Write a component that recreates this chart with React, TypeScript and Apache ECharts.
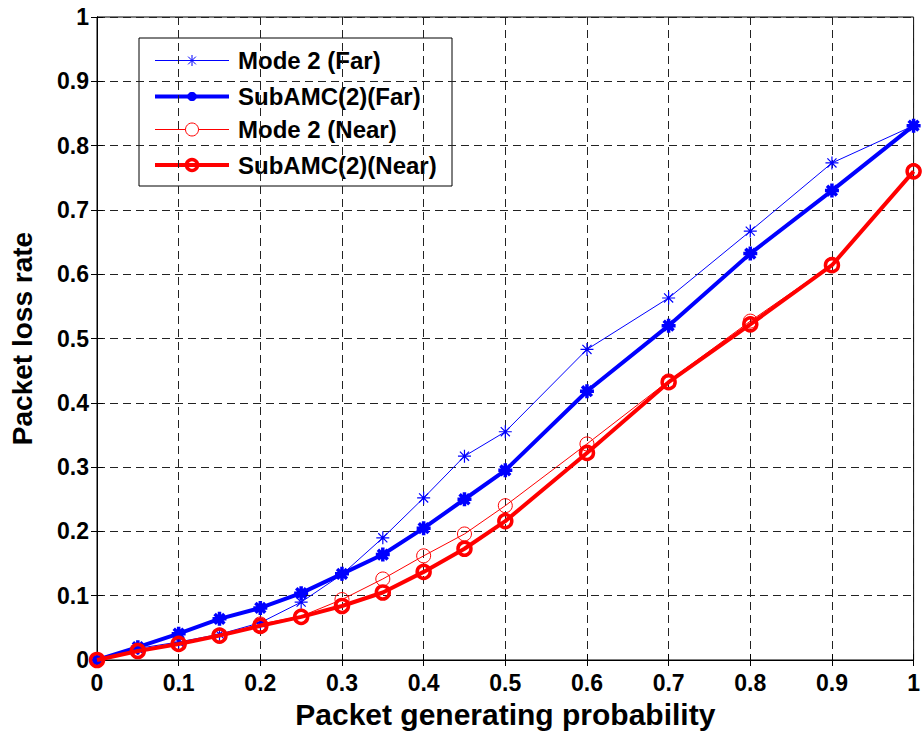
import React, { useEffect, useRef } from "react";
import * as echarts from "echarts";

// Packet generating probability (x) and packet loss rate for each scheme
const probability = [0, 0.05, 0.1, 0.15, 0.2, 0.25, 0.3, 0.35, 0.4, 0.45, 0.5, 0.6, 0.7, 0.8, 0.9, 1.0];
const mode2Far = [0, 0.018, 0.028, 0.04, 0.058, 0.09, 0.133, 0.19, 0.252, 0.317, 0.355, 0.483, 0.563, 0.667, 0.773, 0.831];
const subAmcFar = [0, 0.02, 0.041, 0.064, 0.081, 0.104, 0.134, 0.164, 0.205, 0.25, 0.295, 0.418, 0.52, 0.632, 0.73, 0.831];
const mode2Near = [0, 0.015, 0.025, 0.038, 0.056, 0.068, 0.094, 0.126, 0.162, 0.196, 0.24, 0.336, 0.434, 0.527, 0.615, 0.761];
const subAmcNear = [0, 0.014, 0.025, 0.038, 0.053, 0.067, 0.084, 0.105, 0.137, 0.173, 0.216, 0.322, 0.432, 0.522, 0.614, 0.76];

const seriesNames = ["Mode 2 (Far)", "SubAMC(2)(Far)", "Mode 2 (Near)", "SubAMC(2)(Near)"];

const FONT = "'Liberation Sans', Arial, Helvetica, sans-serif";
const ASTERISK = "path://M0,-10L0,10M-10,0L10,0M-7,-7L7,7M-7,7L7,-7";
const BLUE = "#0000ff";
const RED = "#ff0000";

const pairs = (ys: number[]) => probability.map((x, i) => [x, ys[i]]);

// Eight-armed asterisk built from line segments, centred at (cx, cy)
function asteriskLines(cx: number, cy: number, r: number, color: string, width: number) {
  const d = r * 0.7071;
  const segs = [
    [0, -r, 0, r],
    [-r, 0, r, 0],
    [-d, -d, d, d],
    [-d, d, d, -d],
  ];
  return segs.map(([x1, y1, x2, y2]) => ({
    type: "line",
    shape: { x1: cx + x1, y1: cy + y1, x2: cx + x2, y2: cy + y2 },
    style: { stroke: color, lineWidth: width },
  }));
}

function buildLegend() {
  const boxLeft = 139;
  const boxTop = 38;
  const boxRight = 452;
  const boxBottom = 186;
  const lineX1 = 155;
  const lineX2 = 229;
  const mid = (lineX1 + lineX2) / 2;
  const rows = [60.5, 96.5, 129.5, 165];
  const children: any[] = [
    {
      type: "rect",
      shape: { x: boxLeft, y: boxTop, width: boxRight - boxLeft, height: boxBottom - boxTop },
      style: { fill: "#fff", stroke: "#000", lineWidth: 1 },
    },
  ];
  const specs = [
    { color: BLUE, width: 1 },
    { color: BLUE, width: 4 },
    { color: RED, width: 1 },
    { color: RED, width: 4 },
  ];
  rows.forEach((y, i) => {
    const s = specs[i];
    children.push({
      type: "line",
      shape: { x1: lineX1, y1: y, x2: lineX2, y2: y },
      style: { stroke: s.color, lineWidth: s.width },
    });
    if (i === 0) children.push(...asteriskLines(mid, y, 5.5, BLUE, 1));
    if (i === 1) {
      children.push(...asteriskLines(mid, y, 4.5, BLUE, 3.5));
      children.push({ type: "circle", shape: { cx: mid, cy: y, r: 4 }, style: { fill: BLUE } });
    }
    if (i === 2) children.push({ type: "circle", shape: { cx: mid, cy: y, r: 6.5 }, style: { fill: "#fff", stroke: RED, lineWidth: 1 } });
    if (i === 3) children.push({ type: "circle", shape: { cx: mid, cy: y, r: 5.5 }, style: { fill: "none", stroke: RED, lineWidth: 3.5 } });
    children.push({
      type: "text",
      x: 238,
      y,
      style: {
        text: seriesNames[i],
        fontFamily: FONT,
        fontWeight: "bold",
        fontSize: 24,
        fill: "#000",
        verticalAlign: "middle",
        align: "left",
      },
    });
  });
  return { type: "group", z: 100, children };
}

export default function App() {
  const ref = useRef<HTMLDivElement>(null);

  useEffect(() => {
    if (!ref.current) return;
    const chart = echarts.init(ref.current, null, { renderer: "svg" });

    const gridDash = { type: [8, 5] as number[], color: "#222", width: 1 };
    const labelStyle = { fontFamily: FONT, fontWeight: "bold" as const, fontSize: 23, color: "#000" };
    const axisLine = { show: true, lineStyle: { color: "#000", width: 1 } };
    const innerTick = { show: true, inside: true, length: 6, lineStyle: { color: "#000" } };

    chart.setOption({
      animation: false,
      backgroundColor: "#fff",
      grid: {
        left: 96,
        right: 7,
        top: 17,
        bottom: 73,
        show: true,
        borderColor: "#000",
        borderWidth: 1,
        backgroundColor: "transparent",
      },
      graphic: [buildLegend()],
      xAxis: [
        {
          type: "value",
          min: 0,
          max: 1,
          interval: 0.1,
          position: "bottom",
          name: "Packet generating probability",
          nameLocation: "middle",
          nameGap: 39,
          nameTextStyle: { fontFamily: FONT, fontWeight: "bold", fontSize: 30, color: "#000" },
          axisLine,
          axisTick: innerTick,
          axisLabel: { ...labelStyle, margin: 11 },
          splitLine: { show: true, lineStyle: gridDash },
        },
        {
          type: "value",
          min: 0,
          max: 1,
          interval: 0.1,
          position: "top",
          axisLine,
          axisTick: innerTick,
          axisLabel: { show: false },
          splitLine: { show: false },
        },
      ],
      yAxis: [
        {
          type: "value",
          min: 0,
          max: 1,
          interval: 0.1,
          position: "left",
          name: "Packet loss rate",
          nameLocation: "middle",
          nameGap: 61,
          nameTextStyle: { fontFamily: FONT, fontWeight: "bold", fontSize: 28, color: "#000" },
          axisLine,
          axisTick: innerTick,
          axisLabel: { ...labelStyle, margin: 8 },
          splitLine: { show: true, lineStyle: gridDash },
        },
        {
          type: "value",
          min: 0,
          max: 1,
          interval: 0.1,
          position: "right",
          axisLine,
          axisTick: innerTick,
          axisLabel: { show: false },
          splitLine: { show: false },
        },
      ],
      series: [
        {
          name: seriesNames[0],
          type: "line",
          data: pairs(mode2Far),
          symbol: ASTERISK,
          symbolSize: 13,
          lineStyle: { color: BLUE, width: 1 },
          itemStyle: { color: "transparent", borderColor: BLUE, borderWidth: 1.2 },
          z: 2,
        },
        {
          name: seriesNames[1],
          type: "line",
          data: pairs(subAmcFar),
          symbol: ASTERISK,
          symbolSize: 14,
          lineStyle: { color: BLUE, width: 4 },
          itemStyle: { color: BLUE, borderColor: BLUE, borderWidth: 3.5 },
          z: 3,
        },
        {
          name: seriesNames[2],
          type: "line",
          data: pairs(mode2Near),
          symbol: "circle",
          symbolSize: 14,
          lineStyle: { color: RED, width: 1 },
          itemStyle: { color: "transparent", borderColor: RED, borderWidth: 1 },
          z: 4,
        },
        {
          name: seriesNames[3],
          type: "line",
          data: pairs(subAmcNear),
          symbol: "circle",
          symbolSize: 13,
          lineStyle: { color: RED, width: 4 },
          itemStyle: { color: "transparent", borderColor: RED, borderWidth: 3.5 },
          z: 5,
        },
      ],
    });

    return () => chart.dispose();
  }, []);

  return (
    <div
      ref={ref}
      style={{ position: "fixed", left: 0, top: 0, width: 923, height: 734, background: "#fff" }}
    />
  );
}
